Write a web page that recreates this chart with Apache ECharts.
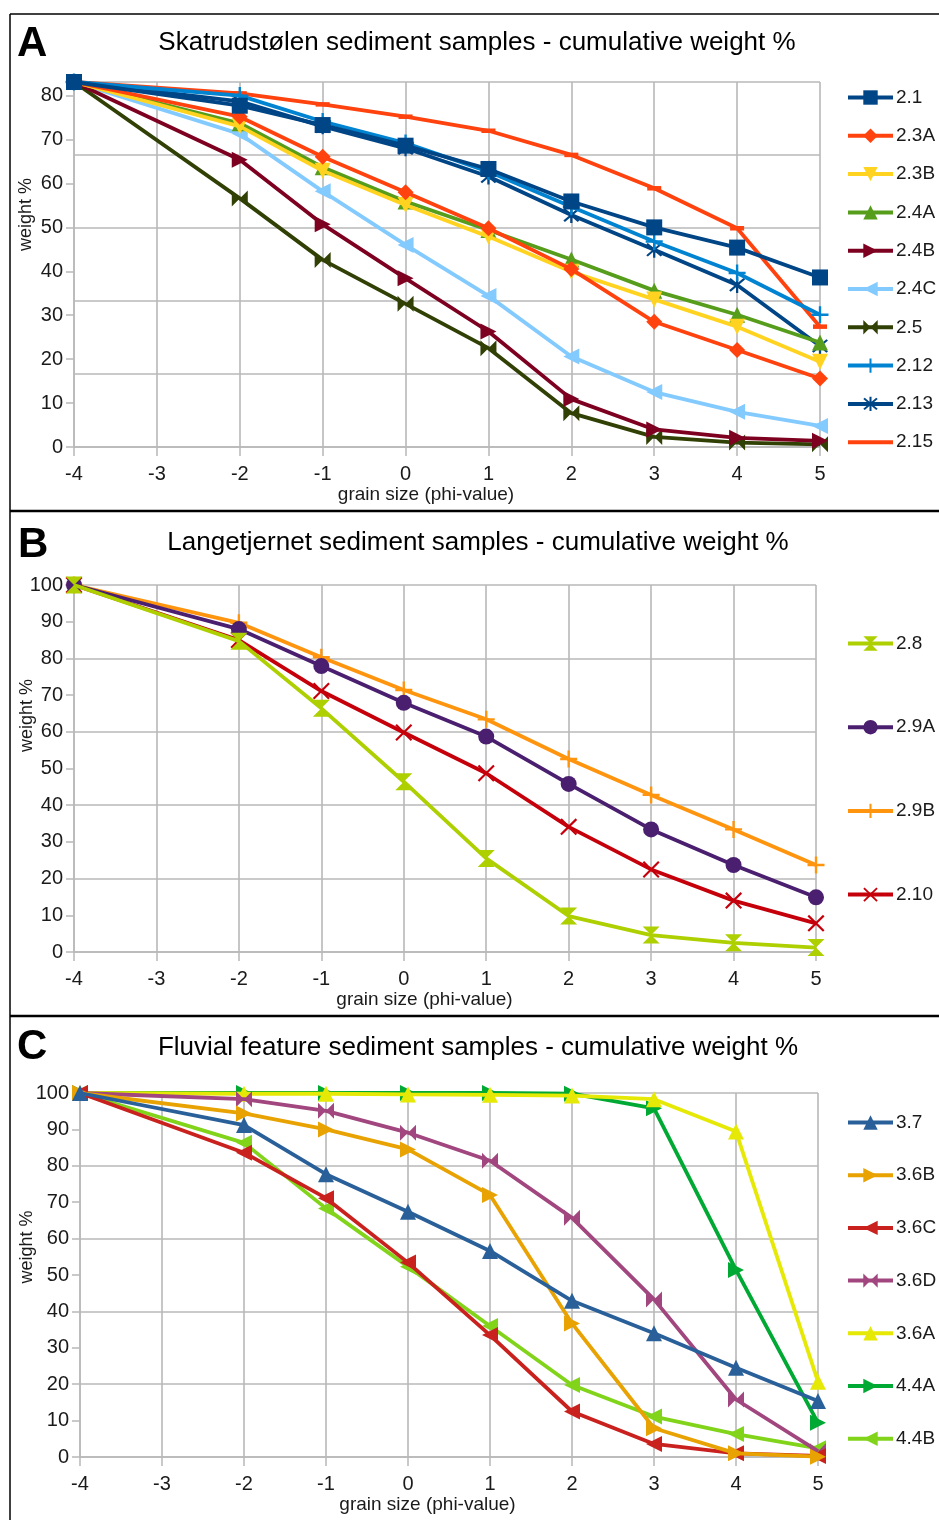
<!DOCTYPE html>
<html>
<head>
<meta charset="utf-8">
<script src="https://cdn.jsdelivr.net/npm/echarts@6/dist/echarts.min.js"></script>
<style>
html,body{margin:0;padding:0;background:#fff;}
#c{width:939px;height:1520px;}
</style>
</head>
<body>
<div id="c"></div>
<script>
// grain size (phi-value) categories shared by all panels
const phi = [-4, -2, -1, 0, 1, 2, 3, 4, 5];
const xTicks = [-4, -3, -2, -1, 0, 1, 2, 3, 4, 5];

// Panel A: Skatrudstølen
const namesA = ['2.1', '2.3A', '2.3B', '2.4A', '2.4B', '2.4C', '2.5', '2.12', '2.13', '2.15'];
const a_2_1  = [83.1, 77.7, 73.3, 68.6, 63.3, 55.9, 50.0, 45.4, 38.6];
const a_2_3A = [83.1, 75.2, 66.1, 58.0, 49.8, 40.5, 28.5, 22.1, 15.6];
const a_2_3B = [83.1, 73.0, 62.9, 55.1, 47.9, 39.9, 33.6, 27.4, 19.4];
const a_2_4A = [83.1, 73.7, 63.7, 55.9, 49.4, 42.7, 35.6, 30.1, 23.8];
const a_2_4B = [83.1, 65.4, 50.7, 38.4, 26.3, 10.9, 4.0, 2.1, 1.4];
const a_2_4C = [83.1, 71.3, 58.2, 46.0, 34.4, 20.6, 12.5, 8.0, 4.8];
const a_2_5  = [83.1, 56.6, 42.6, 32.6, 22.5, 7.7, 2.3, 1.0, 0.6];
const a_2_12 = [83.1, 80.0, 74.1, 69.2, 62.7, 54.7, 46.8, 39.6, 30.1];
const a_2_13 = [83.1, 78.7, 73.0, 68.0, 61.6, 52.8, 44.9, 36.9, 23.0];
const a_2_15 = [83.1, 80.5, 78.0, 75.2, 72.0, 66.5, 58.9, 49.8, 27.4];
const yMaxA = 83.1;

// Panel B: Langetjernet
const namesB = ['2.8', '2.9A', '2.9B', '2.10'];
const b_2_8  = [100, 84.7, 66.4, 46.4, 25.5, 9.8, 4.6, 2.5, 1.2];
const b_2_9A = [100, 88.0, 77.9, 67.9, 58.7, 45.8, 33.4, 23.7, 14.9];
const b_2_9B = [100, 89.7, 80.3, 71.4, 63.4, 52.6, 42.8, 33.4, 23.7];
const b_2_10 = [100, 85.0, 71.1, 59.8, 48.7, 34.1, 22.5, 14.0, 7.8];

// Panel C: Fluvial feature
const namesC = ['3.7', '3.6B', '3.6C', '3.6D', '3.6A', '4.4A', '4.4B'];
const c_3_7  = [100, 91.2, 77.7, 67.4, 56.6, 42.9, 34.0, 24.5, 15.4];
const c_3_6B = [100, 94.4, 90.0, 84.5, 72.0, 36.7, 7.9, 1.0, 0.1];
const c_3_6C = [100, 83.6, 71.1, 53.4, 33.5, 12.5, 3.6, 1.0, 0.3];
const c_3_6D = [100, 98.3, 95.1, 89.1, 81.4, 65.7, 43.3, 15.8, 1.6];
const c_3_6A = [100, 99.8, 99.8, 99.6, 99.5, 99.3, 98.3, 89.4, 20.7];
const c_4_4A = [100, 100, 100, 100, 100, 99.8, 95.8, 51.4, 9.4];
const c_4_4B = [100, 86.3, 68.3, 52.3, 36.0, 19.8, 11.1, 6.3, 2.4];

const FONT = 'Liberation Sans';
const TXT = '#1a1a1a';
const GRID = '#b8b8b8';

// marker shapes
const S = {
  rect: {symbol: 'rect', size: 16},
  diamond: {symbol: 'diamond', size: 16},
  down: {symbol: 'triangle', size: 16, rotate: 180},
  up: {symbol: 'triangle', size: 16, rotate: 0},
  right: {symbol: 'triangle', size: 16, rotate: -90},
  left: {symbol: 'triangle', size: 16, rotate: 90},
  bowtie: {symbol: 'path://M0,0L10,10L0,20Z M20,0L10,10L20,20Z', size: 16},
  hourglass: {symbol: 'path://M0,0L20,0L10,10Z M0,20L20,20L10,10Z', size: 17},
  plus: {symbol: 'path://M8.6,0H11.4V8.6H20V11.4H11.4V20H8.6V11.4H0V8.6H8.6Z', size: 17},
  star: {symbol: 'path://M8.8,0H11.2V20H8.8Z M1.5,3.2L3.2,1.5L18.5,16.8L16.8,18.5Z M16.8,1.5L18.5,3.2L3.2,18.5L1.5,16.8Z', size: 16},
  dash: {symbol: 'rect', size: [14, 4.5]},
  circle: {symbol: 'circle', size: 16},
  cross: {symbol: 'path://M0,1.8L1.8,0L10,8.2L18.2,0L20,1.8L11.8,10L20,18.2L18.2,20L10,11.8L1.8,20L0,18.2L8.2,10Z', size: 17}
};

function mk(name, vals, color, shape, xi, yi, z) {
  return {
    name: name, type: 'line', xAxisIndex: xi, yAxisIndex: yi,
    data: phi.map((x, i) => [x, vals[i]]),
    symbol: shape.symbol, symbolSize: shape.size, symbolRotate: shape.rotate || 0,
    showAllSymbol: true, animation: false, z: z,
    lineStyle: {color: color, width: 3.8},
    itemStyle: {color: color, borderWidth: 0},
    emphasis: {disabled: true}
  };
}

const seriesA = [
  mk('2.1', a_2_1, '#004586', S.rect, 0, 0, 30),
  mk('2.3A', a_2_3A, '#ff420e', S.diamond, 0, 0, 29),
  mk('2.3B', a_2_3B, '#ffd320', S.down, 0, 0, 28),
  mk('2.4A', a_2_4A, '#579d1c', S.up, 0, 0, 27),
  mk('2.4B', a_2_4B, '#7e0021', S.right, 0, 0, 26),
  mk('2.4C', a_2_4C, '#83caff', S.left, 0, 0, 25),
  mk('2.5', a_2_5, '#314004', S.bowtie, 0, 0, 24),
  mk('2.12', a_2_12, '#0084d1', S.plus, 0, 0, 23),
  mk('2.13', a_2_13, '#004586', S.star, 0, 0, 22),
  mk('2.15', a_2_15, '#ff420e', S.dash, 0, 0, 21)
];
const seriesB = [
  mk('2.8', b_2_8, '#aecf00', S.hourglass, 1, 2, 30),
  mk('2.9A', b_2_9A, '#4b1f6f', S.circle, 1, 2, 29),
  mk('2.9B', b_2_9B, '#ff950e', S.plus, 1, 2, 28),
  mk('2.10', b_2_10, '#c5000b', S.cross, 1, 2, 27)
];
const seriesC = [
  mk('3.7', c_3_7, '#2a6099', S.up, 2, 4, 30),
  mk('3.6B', c_3_6B, '#e8a202', S.right, 2, 4, 29),
  mk('3.6C', c_3_6C, '#c9211e', S.left, 2, 4, 28),
  mk('3.6D', c_3_6D, '#a1467e', S.bowtie, 2, 4, 27),
  mk('3.6A', c_3_6A, '#e6e905', S.up, 2, 4, 26),
  mk('4.4A', c_4_4A, '#00a933', S.right, 2, 4, 25),
  mk('4.4B', c_4_4B, '#81d41a', S.left, 2, 4, 24)
];

const grids = [
  {left: 74, right: 119, top: 82, bottom: 1073, outerBoundsMode: 'none', containLabel: false},
  {left: 74, right: 123, top: 585, bottom: 568, outerBoundsMode: 'none', containLabel: false},
  {left: 80, right: 121, top: 1093, bottom: 63, outerBoundsMode: 'none', containLabel: false}
];

function xAxis(gi, namePad) {
  return {
    type: 'value', gridIndex: gi, min: xTicks[0], max: xTicks[xTicks.length - 1], interval: 1,
    name: 'grain size (phi-value)', nameLocation: 'middle', nameGap: 38, nameMoveOverlap: false,
    nameTextStyle: {fontFamily: FONT, fontSize: 19, color: TXT, padding: [0, namePad, 0, 0]},
    axisLine: {show: true, onZero: false, lineStyle: {color: GRID, width: 1.5}},
    axisTick: {show: true, inside: false, length: 9, lineStyle: {color: GRID, width: 1.5}},
    axisLabel: {fontFamily: FONT, fontSize: 20, color: TXT, margin: 17},
    splitLine: {show: true, lineStyle: {color: GRID, width: 1.6}}
  };
}
function yLabelAxis(gi, max, namePad, gap) {
  return {
    type: 'value', gridIndex: gi, min: 0, max: max, interval: 10,
    name: 'weight %', nameLocation: 'middle', nameGap: gap, nameMoveOverlap: false,
    nameTextStyle: {fontFamily: FONT, fontSize: 18, color: TXT, padding: [0, 0, 0, namePad]},
    axisLine: {show: true, onZero: false, lineStyle: {color: GRID, width: 1.5}},
    axisTick: {show: true, length: 8, lineStyle: {color: GRID, width: 1.5}},
    axisLabel: {fontFamily: FONT, fontSize: 20, color: TXT, margin: 11, showMaxLabel: max % 10 === 0,
      formatter: v => (Math.abs(v % 10) < 1e-9 ? String(v) : '')},
    splitLine: {show: false}
  };
}
function yGridAxis(gi, max, step) {
  return {
    type: 'value', gridIndex: gi, min: 0, max: max, interval: step, position: 'left',
    axisLine: {show: false, onZero: false}, axisTick: {show: false}, axisLabel: {show: false},
    splitLine: {show: true, lineStyle: {color: GRID, width: 1.6}}
  };
}

function legend(names, top, gap, extra) {
  return {
    data: names.map(n => (extra && extra[n]) ? Object.assign({name: n}, extra[n]) : n),
    orient: 'vertical', left: 846, top: top, itemGap: gap, padding: 0,
    itemWidth: 45, itemHeight: 18, selectedMode: false,
    lineStyle: {width: 4},
    textStyle: {fontFamily: FONT, fontSize: 19, color: TXT, lineHeight: 18, padding: [0, 0, 0, -2]}
  };
}

function txt(x, y, text, size, weight, align) {
  return {type: 'text', x: x, y: y, silent: true,
    style: {text: text, fontFamily: FONT, fontSize: size, fontWeight: weight, fill: '#000',
      textAlign: align, textVerticalAlign: 'middle'}};
}
function hline(y, w) {
  return {type: 'line', silent: true, shape: {x1: 10, y1: y, x2: 939, y2: y}, style: {stroke: '#000', lineWidth: w}};
}

const chart = echarts.init(document.getElementById('c'), null, {renderer: 'canvas'});
chart.setOption({
  animation: false,
  backgroundColor: '#fff',
  grid: grids,
  xAxis: [xAxis(0, 42), xAxis(1, 41), xAxis(2, 43)],
  yAxis: [
    yLabelAxis(0, yMaxA, 100, 39), yGridAxis(0, yMaxA, yMaxA / 5),
    yLabelAxis(1, 100, 106, 38), yGridAxis(1, 100, 20),
    yLabelAxis(2, 100, 56, 44), yGridAxis(2, 100, 20)
  ],
  legend: [
    legend(namesA, 88, 19.3, {'2.15': {icon: 'path://M0,0H45V4H0Z'}}),
    legend(namesB, 634, 64.7),
    legend(namesC, 1113, 33.7)
  ],
  series: seriesA.concat(seriesB, seriesC),
  graphic: [
    hline(14, 1.5),
    {type: 'line', silent: true, shape: {x1: 10, y1: 14, x2: 10, y2: 1520}, style: {stroke: '#000', lineWidth: 1.5}},
    hline(511, 2.5),
    hline(1016, 2.5),
    txt(17, 44, 'A', 42, 'bold', 'left'),
    txt(18, 545, 'B', 42, 'bold', 'left'),
    txt(17, 1047, 'C', 42, 'bold', 'left'),
    txt(477, 43, 'Skatrudstølen sediment samples - cumulative weight %', 26, 'normal', 'center'),
    txt(478, 543, 'Langetjernet sediment samples - cumulative weight %', 26, 'normal', 'center'),
    txt(478, 1048, 'Fluvial feature sediment samples - cumulative weight %', 26, 'normal', 'center')
  ]
});
</script>
</body>
</html>
